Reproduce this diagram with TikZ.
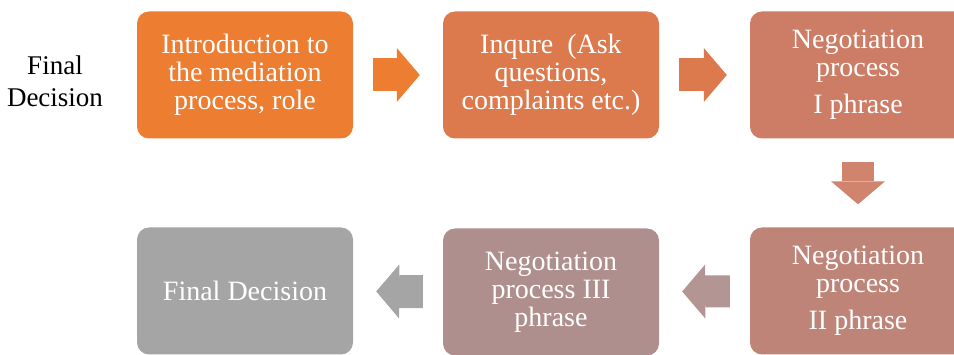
\documentclass[tikz,border=0pt]{standalone}
\usepackage{fontspec}
\setmainfont{Liberation Serif}
\usetikzlibrary{arrows.meta}

\definecolor{stepone}{HTML}{ED7D31}
\definecolor{steptwo}{HTML}{DC7A4D}
\definecolor{stepthree}{HTML}{CD7D65}
\definecolor{stepfour}{HTML}{BE8478}
\definecolor{stepfive}{HTML}{AF8F8D}
\definecolor{stepsix}{HTML}{A5A5A5}

\begin{document}
\begin{tikzpicture}[x=1pt,y=-1pt,
    stage/.style={rounded corners=12pt,minimum width=216pt,minimum height=127pt,inner sep=0pt,align=center,text=white,font=\fontsize{28}{28}\selectfont},
    flow/.style={line width=33pt,-{Triangle[width=54pt,length=23pt,line width=0pt]},shorten <=20pt,shorten >=23pt}
]
    \useasboundingbox (0,0) rectangle (954,355);
    % Side label
    \node[align=center,font=\fontsize{27}{32}\selectfont] (label) at (55,81) {Final\\Decision};
    % Top row
    \node[stage,fill=stepone] (intro) at (245,75) {Introduction to\\the mediation\\process, role};
    \node[stage,fill=steptwo] (inquire) at (551,75) {Inqure~~(Ask\\questions,\\complaints etc.)};
    \node[stage,fill=stepthree] (phaseone) at (858,75) {Negotiation\\process\\[9pt]I phrase};
    % Bottom row
    \node[stage,fill=stepfour] (phasetwo) at (858,291) {Negotiation\\process\\[9pt]II phrase};
    \node[stage,fill=stepfive] (phasethree) at (551,292) {Negotiation\\process III\\phrase};
    \node[stage,fill=stepsix] (final) at (245,291) {Final Decision};
    % Arrows
    \draw[flow,stepone] (intro) -- (inquire);
    \draw[flow,steptwo] (inquire) -- (phaseone);
    \draw[flow,stepthree!95!white,line width=32pt,shorten <=23pt] (phaseone) -- (phasetwo);
    \draw[flow,stepfive!95!white,line width=32pt] (phasetwo) -- (phasethree);
    \draw[flow,stepsix] (phasethree) -- (final);
\end{tikzpicture}
\end{document}
